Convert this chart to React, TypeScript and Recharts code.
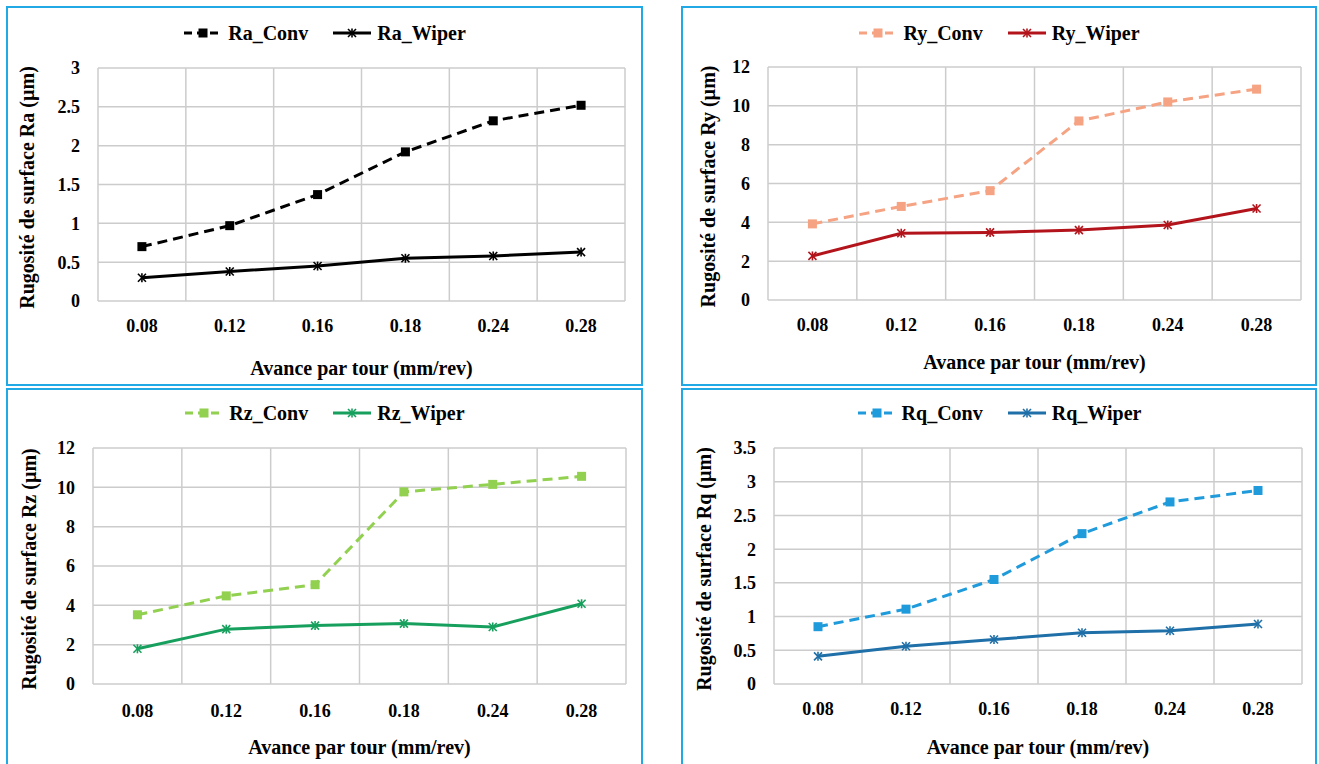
import React from 'react';
import { LineChart, Line, XAxis, YAxis, CartesianGrid, Legend } from 'recharts';

const categories = ['0.08', '0.12', '0.16', '0.18', '0.24', '0.28'];

const raConv = [0.7, 0.97, 1.37, 1.92, 2.32, 2.52];
const raWiper = [0.3, 0.38, 0.45, 0.55, 0.58, 0.63];
const ryConv = [3.92, 4.82, 5.63, 9.22, 10.2, 10.86];
const ryWiper = [2.27, 3.44, 3.48, 3.6, 3.86, 4.71];
const rzConv = [3.52, 4.48, 5.05, 9.77, 10.15, 10.56];
const rzWiper = [1.79, 2.79, 2.97, 3.07, 2.9, 4.08];
const rqConv = [0.85, 1.11, 1.55, 2.23, 2.7, 2.87];
const rqWiper = [0.41, 0.56, 0.66, 0.76, 0.79, 0.89];

const raTicks = [0, 0.5, 1, 1.5, 2, 2.5, 3];
const ryTicks = [0, 2, 4, 6, 8, 10, 12];
const rzTicks = [0, 2, 4, 6, 8, 10, 12];
const rqTicks = [0, 0.5, 1, 1.5, 2, 2.5, 3, 3.5];

const FONT = 'Liberation Serif, DejaVu Serif';
const BORDER = '#21a9e6';
const GRID = '#cccccc';
const TITLE_SIZE = 20;
const TICK_SIZE = 18;

const buildData = (conv: number[], wiper: number[]) =>
  categories.map((c, i) => ({ cat: c, conv: conv[i], wiper: wiper[i] }));

const SquareDot = (color: string) => (props: any) => {
  const { cx, cy, index } = props;
  if (cx == null || cy == null) return <g key={index} />;
  return <rect key={index} x={cx - 4.5} y={cy - 4.5} width={9} height={9} fill={color} />;
};

const StarDot = (color: string) => (props: any) => {
  const { cx, cy, index } = props;
  if (cx == null || cy == null) return <g key={index} />;
  const r = 4;
  return (
    <g key={index} stroke={color} strokeWidth={1.6}>
      <line x1={cx - r} y1={cy - r} x2={cx + r} y2={cy + r} />
      <line x1={cx - r} y1={cy + r} x2={cx + r} y2={cy - r} />
      <line x1={cx} y1={cy - r - 0.5} x2={cx} y2={cy + r + 0.5} />
    </g>
  );
};

type PanelCfg = {
  left: number;
  top: number;
  width: number;
  height: number;
  convName: string;
  wiperName: string;
  conv: number[];
  wiper: number[];
  convColor: string;
  wiperColor: string;
  ticks: number[];
  yTitle: string;
  yAxisWidth: number;
  margin: { top: number; right: number; left: number; bottom: number };
  yTitleX: number;
  xTickMargin: number;
  xTitleDy: number;
  legendCenter: number;
};

const LegendContent = (cfg: PanelCfg) => () => {
  const item = (name: string, color: string, dashed: boolean) => (
    <div style={{ display: 'flex', alignItems: 'center', margin: '0 12px' }}>
      <svg width={40} height={14} style={{ marginRight: 5 }}>
        <line
          x1={1}
          y1={7}
          x2={39}
          y2={7}
          stroke={color}
          strokeWidth={3}
          strokeDasharray={dashed ? '8 5' : undefined}
        />
        {dashed ? (
          <rect x={15.5} y={2.5} width={9} height={9} fill={color} />
        ) : (
          <g stroke={color} strokeWidth={1.6}>
            <line x1={16} y1={3} x2={24} y2={11} />
            <line x1={16} y1={11} x2={24} y2={3} />
            <line x1={20} y1={2.5} x2={20} y2={11.5} />
          </g>
        )}
      </svg>
      <span style={{ fontFamily: FONT, fontWeight: 'bold', fontSize: TITLE_SIZE, color: '#000' }}>{name}</span>
    </div>
  );
  return (
    <div style={{ display: 'flex', justifyContent: 'center', alignItems: 'center', height: 24 }}>
      {item(cfg.convName, cfg.convColor, true)}
      {item(cfg.wiperName, cfg.wiperColor, false)}
    </div>
  );
};

const Panel = ({ cfg }: { cfg: PanelCfg }) => {
  const data = buildData(cfg.conv, cfg.wiper);
  const w = cfg.width - 4;
  const h = cfg.height - 4;
  const yTitle = (props: any) => {
    const vb = props.viewBox || {};
    const cx = (vb.x || 0) + cfg.yTitleX;
    const cy = (vb.y || 0) + (vb.height || 0) / 2 + 3;
    return (
      <text
        x={cx}
        y={cy}
        transform={`rotate(-90 ${cx} ${cy})`}
        textAnchor="middle"
        dominantBaseline="central"
        fontFamily={FONT}
        fontWeight="bold"
        fontSize={TITLE_SIZE}
        fill="#000"
      >
        {cfg.yTitle}
      </text>
    );
  };
  const xTitle = (props: any) => {
    const vb = props.viewBox || {};
    const cx = (vb.x || 0) + (vb.width || 0) / 2;
    const cy = (vb.y || 0) + cfg.xTitleDy;
    return (
      <text
        x={cx}
        y={cy}
        textAnchor="middle"
        dominantBaseline="central"
        fontFamily={FONT}
        fontWeight="bold"
        fontSize={TITLE_SIZE}
        fill="#000"
      >
        Avance par tour (mm/rev)
      </text>
    );
  };
  const n = categories.length;
  return (
    <div
      style={{
        position: 'absolute',
        left: cfg.left,
        top: cfg.top,
        width: cfg.width,
        height: cfg.height,
        border: `2px solid ${BORDER}`,
        boxSizing: 'border-box',
        background: '#fff',
      }}
    >
      <LineChart width={w} height={h} data={data} margin={cfg.margin}>
        <CartesianGrid
          stroke={GRID}
          strokeWidth={1.5}
          verticalCoordinatesGenerator={({ offset }: any) =>
            Array.from({ length: n + 1 }, (_, i) => offset.left + (i * offset.width) / n)
          }
        />
        <XAxis
          dataKey="cat"
          scale="band"
          axisLine={false}
          tickLine={false}
          tickSize={0}
          tickMargin={cfg.xTickMargin}
          height={30}
          tick={{ fill: '#000', fontSize: TICK_SIZE, fontWeight: 'bold', fontFamily: FONT }}
          label={xTitle}
        />
        <YAxis
          domain={[cfg.ticks[0], cfg.ticks[cfg.ticks.length - 1]]}
          ticks={cfg.ticks}
          axisLine={false}
          tickLine={false}
          tickSize={0}
          tickMargin={18}
          width={cfg.yAxisWidth}
          tick={{ fill: '#000', fontSize: TICK_SIZE, fontWeight: 'bold', fontFamily: FONT }}
          label={yTitle}
        />
        <Legend
          verticalAlign="middle"
          align="center"
          layout="horizontal"
          wrapperStyle={{ left: 0, top: cfg.legendCenter - 12, width: '100%' }}
          content={LegendContent(cfg)}
        />
        <Line
          dataKey="conv"
          name={cfg.convName}
          stroke={cfg.convColor}
          strokeWidth={3}
          strokeDasharray="10 6"
          dot={SquareDot(cfg.convColor)}
          activeDot={false}
          isAnimationActive={false}
        />
        <Line
          dataKey="wiper"
          name={cfg.wiperName}
          stroke={cfg.wiperColor}
          strokeWidth={3}
          dot={StarDot(cfg.wiperColor)}
          activeDot={false}
          isAnimationActive={false}
        />
      </LineChart>
    </div>
  );
};

const panels: PanelCfg[] = [
  {
    left: 6, top: 6, width: 637, height: 380,
    convName: 'Ra_Conv', wiperName: 'Ra_Wiper', conv: raConv, wiper: raWiper,
    convColor: '#000000', wiperColor: '#000000', ticks: raTicks,
    yTitle: 'Rugosité de surface Ra (µm)', yAxisWidth: 90,
    margin: { top: 60, right: 16, left: 0, bottom: 53 },
    yTitleX: 19, xTickMargin: 18, xTitleDy: 67, legendCenter: 25,
  },
  {
    left: 681, top: 6, width: 636, height: 380,
    convName: 'Ry_Conv', wiperName: 'Ry_Wiper', conv: ryConv, wiper: ryWiper,
    convColor: '#f5a383', wiperColor: '#b3141b', ticks: ryTicks,
    yTitle: 'Rugosité de surface Ry (µm)', yAxisWidth: 85,
    margin: { top: 59, right: 14, left: 0, bottom: 54 },
    yTitleX: 25, xTickMargin: 18, xTitleDy: 62, legendCenter: 25,
  },
  {
    left: 6, top: 388, width: 637, height: 380,
    convName: 'Rz_Conv', wiperName: 'Rz_Wiper', conv: rzConv, wiper: rzWiper,
    convColor: '#92d050', wiperColor: '#17a05d', ticks: rzTicks,
    yTitle: 'Rugosité de surface Rz (µm)', yAxisWidth: 85,
    margin: { top: 58, right: 15, left: 0, bottom: 52 },
    yTitleX: 21, xTickMargin: 20, xTitleDy: 63, legendCenter: 23,
  },
  {
    left: 681, top: 388, width: 636, height: 380,
    convName: 'Rq_Conv', wiperName: 'Rq_Wiper', conv: rqConv, wiper: rqWiper,
    convColor: '#1f9bdb', wiperColor: '#1f6fa8', ticks: rqTicks,
    yTitle: 'Rugosité de surface Rq (µm)', yAxisWidth: 91,
    margin: { top: 58, right: 13, left: 0, bottom: 52 },
    yTitleX: 21, xTickMargin: 18, xTitleDy: 63, legendCenter: 23,
  },
];

export default function App() {
  return (
    <div
      style={{
        position: 'absolute',
        left: 0,
        top: 0,
        width: 1319,
        height: 764,
        overflow: 'hidden',
        background: '#fff',
      }}
    >
      {panels.map((p, i) => (
        <Panel key={i} cfg={p} />
      ))}
    </div>
  );
}
